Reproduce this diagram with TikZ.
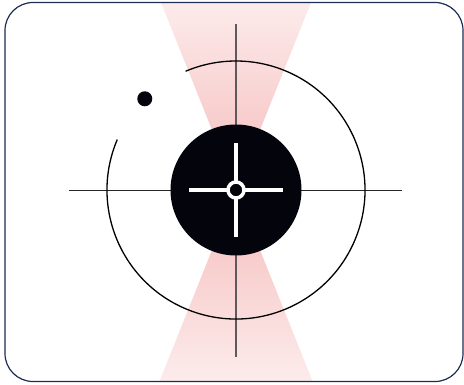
\documentclass[tikz,border=0pt]{standalone}
\usetikzlibrary{calc}
\definecolor{framenavy}{RGB}{28,44,82}
\definecolor{pinkdeep}{RGB}{245,188,188}
\definecolor{pinklight}{RGB}{253,238,238}
\definecolor{axisgray}{RGB}{95,88,92}
\definecolor{coreblack}{RGB}{3,4,12}
\tikzset{
  framebox/.style={draw=framenavy, line width=1.2pt, rounded corners=28pt},
  axisline/.style={draw=axisgray, line width=1.4pt},
  hline/.style={draw=black!85, line width=0.9pt},
  ringarc/.style={draw=black, line width=1.3pt},
  whitecross/.style={draw=white, line width=4pt},
}
\begin{document}
\begin{tikzpicture}[x=1pt,y=1pt]
\useasboundingbox (0,0) rectangle (464,384);
\coordinate (C) at (236,194);
% cones clipped to frame
\begin{scope}
  \clip[rounded corners=28pt] (5,2.5) rectangle (463,381.5);
  \shade[top color=pinklight, bottom color=pinkdeep]
    (C) -- ($(C)+(-80,200)$) -- ($(C)+(80,200)$) -- cycle;
  \shade[top color=pinkdeep, bottom color=pinklight]
    (C) -- ($(C)+(-80,-200)$) -- ($(C)+(80,-200)$) -- cycle;
\end{scope}
% axes
\coordinate (vt) at (236,359.7);
\coordinate (vb) at (236,27.3);
\coordinate (hl) at (69.3,194);
\coordinate (hr) at (402.3,194);
\draw[axisline] (vt) -- (vb);
\draw[hline] (hl) -- (hr);
% big broken ring
\draw[ringarc] ($(C)+(157:129)$) arc[start angle=157, end angle=473, radius=129];
% dot in the gap
\fill[coreblack] ($(C)+(135:129)$) circle[radius=7.5];
% black core
\fill[coreblack] (C) circle[radius=65.5];
% white crosshair
\draw[whitecross] ($(C)+(-47,0)$) -- ($(C)+(47,0)$);
\draw[whitecross] ($(C)+(0,47)$) -- ($(C)+(0,-47)$);
\draw[draw=white, line width=3.5pt, fill=coreblack] (C) circle[radius=8];
% frame
\draw[framebox] (5,2.5) rectangle (463,381.5);
\end{tikzpicture}
\end{document}
